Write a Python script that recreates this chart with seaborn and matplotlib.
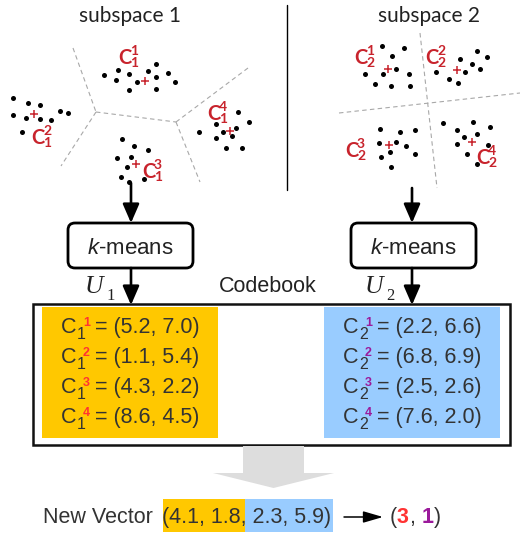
import numpy as np
import pandas as pd
import matplotlib
matplotlib.use("Agg")
import matplotlib.pyplot as plt
from matplotlib.patches import FancyBboxPatch, Rectangle, FancyArrow
import seaborn as sns

# -------------------------------
# Data
# -------------------------------
# subspace 1 points (pixel space of the sketch), one list per cluster
s1_x = [104, 118, 116, 129, 137, 129, 148, 156, 156, 156, 168, 175,
        13, 28, 40, 13, 26, 40, 51, 60, 68, 22,
        122, 134, 148, 117, 131, 127, 121, 129, 144,
        238, 249, 216, 199, 223, 236, 232, 216, 226, 242]
s1_y = [75, 70, 80, 74, 82, 90, 71, 64, 77, 89, 73, 82,
        98, 103, 105, 115, 118, 119, 120, 111, 113, 132,
        139, 146, 150, 158, 157, 167, 177, 182, 179,
        112, 122, 124, 132, 132, 128, 136, 138, 148, 148]
s1_cx = [145, 34, 136, 230]
s1_cy = [81, 114, 164, 131]

s2_x = [382, 404, 392, 365, 383, 396, 409, 375, 391, 410,
        477, 487, 460, 472, 480, 436, 449, 458, 465,
        380, 400, 415, 379, 396, 406, 381, 390, 415, 391,
        443, 473, 490, 457, 464, 477, 457, 467, 488, 477]
s2_y = [46, 48, 56, 74, 74, 69, 74, 84, 86, 86,
        51, 57, 59, 64, 69, 72, 79, 83, 72,
        129, 132, 130, 143, 142, 146, 157, 152, 154, 167,
        123, 122, 127, 130, 137, 134, 144, 154, 145, 164]
s2_cx = [388, 457, 389, 472]
s2_cy = [69, 70, 145, 142]

# cluster labels: (C left x, baseline y, subscript, superscript)
labels = [(118, 64, "1", "1"), (31, 144, "1", "2"), (142, 178, "1", "3"), (207, 120, "1", "4"),
          (354, 64, "2", "1"), (425, 64, "2", "2"), (345, 157, "2", "3"), (476, 164, "2", "4")]

# codebooks
codebook1 = [(5.2, 7.0), (1.1, 5.4), (4.3, 2.2), (8.6, 4.5)]
codebook2 = [(2.2, 6.6), (6.8, 6.9), (2.5, 2.6), (7.6, 2.0)]
new_vector = [4.1, 1.8, 2.3, 5.9]
codes = [3, 1]

# voronoi-ish borders
borders = [((73, 48), (96, 112)), ((96, 112), (61, 166)), ((96, 112), (176, 122)),
           ((176, 122), (248, 68)), ((176, 122), (200, 182)),
           ((420, 33), (437, 188)), ((339, 113), (520, 93))]

YELLOW = "#FFC800"
BLUE = "#99CCFF"
RED = "#FF3333"
PURPLE = "#9B1A9B"
DARKRED = "#C8232C"
TXT = "#333333"

# -------------------------------
# Figure
# -------------------------------
sns.set_theme(style="white")
plt.rcParams["font.family"] = ["Liberation Sans", "DejaVu Sans"]
plt.rcParams["mathtext.fontset"] = "custom"
plt.rcParams["mathtext.rm"] = "Liberation Sans"
plt.rcParams["mathtext.it"] = "Liberation Sans:italic"

fig = plt.figure(figsize=(5.2, 5.36), dpi=100)
ax = fig.add_axes([0, 0, 1, 1])

pts = pd.DataFrame({"x": s1_x + s2_x, "y": s1_y + s2_y})
cents = pd.DataFrame({"x": s1_cx + s2_cx, "y": s1_cy + s2_cy})
sns.scatterplot(data=pts, x="x", y="y", color="black", s=13, linewidth=0, ax=ax, zorder=3)
sns.scatterplot(data=cents, x="x", y="y", color=DARKRED, marker="+", s=35, linewidth=1.1, ax=ax, zorder=4)

for (x0, y0), (x1, y1) in borders:
    ax.plot([x0, x1], [y0, y1], color="#A8A8A8", lw=0.8, ls=(0, (4, 3)), zorder=1)

ax.plot([287, 287], [5, 190], color="black", lw=1)

ax.text(130, 22, "subspace 1", ha="center", va="baseline", fontsize=15, family="Lato", color="#222222")
ax.text(429, 22, "subspace 2", ha="center", va="baseline", fontsize=15, family="Lato", color="#222222")

for x, y, sub, sup in labels:
    ax.text(x, y, "C", ha="left", va="baseline", fontsize=14.5, family="Lato",
            fontweight="bold", color=DARKRED)
    ax.text(x + 12, y - 9, sup, ha="left", va="baseline", fontsize=10, family="Lato",
            fontweight="bold", color=DARKRED)
    ax.text(x + 12, y + 3, sub, ha="left", va="baseline", fontsize=10, family="Lato",
            fontweight="bold", color=DARKRED)

# arrows into k-means and out to codebook
big = dict(arrowstyle="-|>,head_length=1.15,head_width=0.5", lw=1.9, color="black",
           mutation_scale=10, shrinkA=0, shrinkB=0)
for xa, ya in [(131, 183), (412, 188)]:
    ax.annotate("", xy=(xa, 223), xytext=(xa, ya), arrowprops=big)
    ax.annotate("", xy=(xa, 305), xytext=(xa, 268), arrowprops=big)

for bx in [68, 351]:
    ax.add_patch(FancyBboxPatch((bx, 223), 125, 45, boxstyle="round,pad=0,rounding_size=7",
                                lw=2, ec="black", fc="white", zorder=2))
    ax.text(bx + 62.5, 254, "$k$-means", ha="center", va="baseline", fontsize=16, color="#222222", zorder=3)

ax.text(268, 292, "Codebook", ha="center", va="baseline", fontsize=15.5, color="#222222")
for ux, uname in [(85, "1"), (365, "2")]:
    ax.text(ux, 293, "U", ha="left", va="baseline", fontsize=18.5, family="Liberation Serif",
            style="italic", color="#222222")
    ax.text(ux + 21, 300, uname, ha="left", va="baseline", fontsize=12, family="Liberation Serif",
            color="#222222")

# codebook box
ax.add_patch(Rectangle((33, 304), 477, 141, fill=False, lw=1.8, ec="#111111"))
ax.add_patch(Rectangle((42, 307), 176, 131, color=YELLOW, lw=0))
ax.add_patch(Rectangle((324, 307), 176, 131, color=BLUE, lw=0))

def code_line(x, y, sub, sup, vals, supcolor):
    ax.text(x, y, "C", ha="left", va="baseline", fontsize=15.5, color=TXT)
    ax.text(x + 16, y + 6, sub, ha="left", va="baseline", fontsize=11.5, color=TXT)
    ax.text(x + 22, y - 7, sup, ha="left", va="baseline", fontsize=9, fontweight="bold", color=supcolor)
    ax.text(x + 34, y, f"= ({vals[0]:.1f}, {vals[1]:.1f})", ha="left", va="baseline",
            fontsize=15.5, color=TXT)

for i, (v1, v2) in enumerate(zip(codebook1, codebook2)):
    yb = 333 + 30 * i
    code_line(61, yb, "1", str(i + 1), v1, RED)
    code_line(343, yb, "2", str(i + 1), v2, PURPLE)

# big gray arrow
ax.add_patch(FancyArrow(273.5, 446, 0, 42, width=61, head_width=121, head_length=15,
                        length_includes_head=True, color="#DDDDDD", lw=0))

# new vector line
ax.add_patch(Rectangle((163, 499), 82, 33, color=YELLOW, lw=0))
ax.add_patch(Rectangle((245, 499), 88, 33, color=BLUE, lw=0))
ax.text(43, 523, "New Vector", ha="left", va="baseline", fontsize=15.5, color=TXT)
ax.text(162, 523, "(" + ", ".join(f"{v:.1f}" for v in new_vector) + ")", ha="left",
        va="baseline", fontsize=15.5, color=TXT, zorder=3)
ax.annotate("", xy=(383, 517), xytext=(344, 517),
            arrowprops=dict(arrowstyle="-|>,head_length=1.2,head_width=0.35", lw=1.1,
                            color="black", mutation_scale=10, shrinkA=0, shrinkB=0))
ax.text(390, 523, "(", ha="left", va="baseline", fontsize=15.5, color=TXT)
ax.text(397, 523, str(codes[0]), ha="left", va="baseline", fontsize=15.5, fontweight="bold", color=RED)
ax.text(409, 523, ",", ha="left", va="baseline", fontsize=15.5, color=TXT)
ax.text(422, 523, str(codes[1]), ha="left", va="baseline", fontsize=15.5, fontweight="bold", color=PURPLE)
ax.text(434, 523, ")", ha="left", va="baseline", fontsize=15.5, color=TXT)

ax.set_xlim(0, 520)
ax.set_ylim(536, 0)
ax.axis("off")

fig.savefig("out.png", dpi=100)
